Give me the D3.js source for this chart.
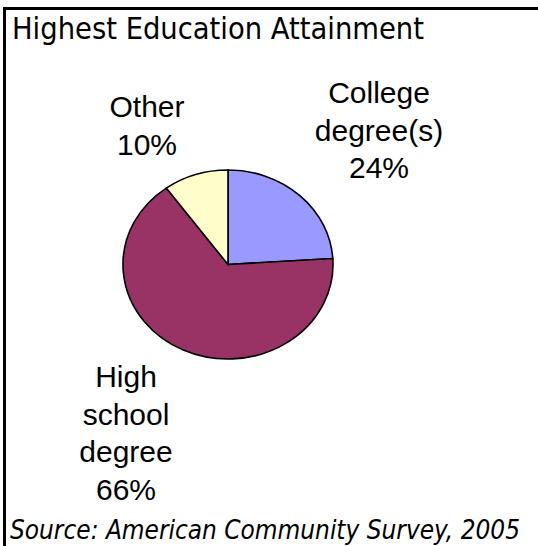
<!DOCTYPE html>
<html lang="en">
<head>
<meta charset="utf-8">
<title>Highest Education Attainment</title>
<script src="https://d3js.org/d3.v7.min.js"></script>
<style>
  body { margin: 0; background: white; }
  svg text { fill: black; }
</style>
</head>
<body>
<div id="chart"></div>
<script>
// data
var categories = ["College degree(s)", "High school degree", "Other"];
var shares = [24, 66, 10];
var labelLines = [["College", "degree(s)"], ["High", "school", "degree"], ["Other"]];
var colors = ["#9999FF", "#993366", "#FFFFCC"];

var width = 538, height = 546;
var svg = d3.select("#chart").append("svg")
  .attr("width", width)
  .attr("height", height);

// frame: top and left edges only are visible
svg.append("path")
  .attr("d", "M4.5,546 L4.5,8.5 L538,8.5")
  .attr("fill", "none")
  .attr("stroke", "black")
  .attr("stroke-width", 3);

svg.append("text")
  .attr("x", 12)
  .attr("y", 39)
  .style("font", "31px 'DejaVu Sans Condensed'")
  .attr("textLength", 412)
  .attr("lengthAdjust", "spacingAndGlyphs")
  .text("Highest Education Attainment");

// pie, a little squashed vertically like the original
var cx = 228, cy = 264.5, rx = 105, ry = 94.5;
var pie = d3.pie().sort(null).value(function(d) { return d; });
var arc = d3.arc().innerRadius(0).outerRadius(rx);

var g = svg.append("g")
  .attr("transform", "translate(" + cx + "," + cy + ") scale(1," + (ry / rx) + ")");

g.selectAll("path")
  .data(pie(shares))
  .enter()
  .append("path")
  .attr("d", arc)
  .attr("fill", function(d, i) { return colors[i]; })
  .attr("stroke", "black")
  .attr("stroke-width", 1.6)
  .attr("vector-effect", "non-scaling-stroke");

// label anchors: centre x and first baseline
var labelPos = [[379, 103], [126, 387], [147, 117]];
var lineH = 37.5;

labelLines.forEach(function(lines, i) {
  var t = svg.append("text")
    .attr("text-anchor", "middle")
    .style("font", "30px 'Liberation Sans', Arial, sans-serif");
  var all = lines.concat([shares[i] + "%"]);
  all.forEach(function(s, j) {
    t.append("tspan")
      .attr("x", labelPos[i][0])
      .attr("y", labelPos[i][1] + j * lineH)
      .text(s);
  });
});

svg.append("text")
  .attr("x", 10)
  .attr("y", 539)
  .style("font", "italic 26px 'DejaVu Sans Condensed'")
  .attr("textLength", 510)
  .attr("lengthAdjust", "spacingAndGlyphs")
  .text("Source: American Community Survey, 2005");
</script>
</body>
</html>
